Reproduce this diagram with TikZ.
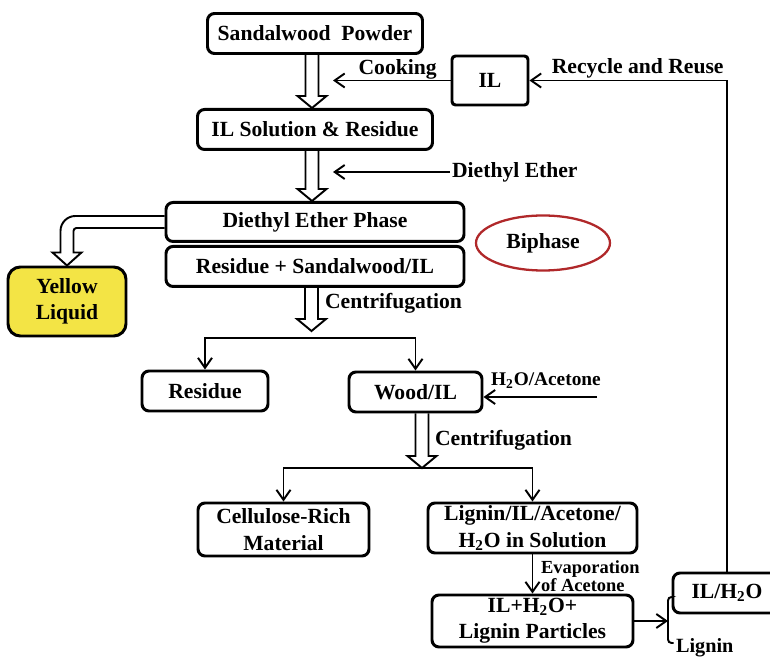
\documentclass[tikz,border=0pt]{standalone}
\usepackage{fontspec}
\setmainfont{Liberation Serif}
\usetikzlibrary{arrows.meta,positioning,calc,shapes.geometric}
\definecolor{lemon}{HTML}{F3E445}
\definecolor{brick}{HTML}{B0282A}
% hollow block arrow going straight down: #1 = x, #2 = from, #3 = to
\newcommand{\fatdown}[3]{%
  \draw[fat] let \p1=(#2), \p2=(#3) in
    (#1-0.13cm,\y1) -- (#1-0.13cm,\y2+0.24cm) -- (#1-0.29cm,\y2+0.24cm) -- (#1,\y2)
    -- (#1+0.29cm,\y2+0.24cm) -- (#1+0.13cm,\y2+0.24cm) -- (#1+0.13cm,\y1);}

\begin{document}
\begin{tikzpicture}[>={Straight Barb[length=2mm,width=2.8mm]},node distance=5mm]
  \tikzstyle{box}=[draw,line width=1.7pt,rounded corners=4pt,minimum height=8mm,align=center,inner xsep=2pt,inner ysep=1pt,font=\fontsize{12.3}{15}\selectfont\bfseries]
  \tikzstyle{lbl}=[inner sep=1pt,align=center,font=\fontsize{12.3}{15}\selectfont\bfseries]
  \tikzstyle{small}=[inner sep=1pt,align=center,font=\fontsize{11}{14}\selectfont\bfseries]
  \tikzstyle{conn}=[draw,line width=1.1pt]
  \tikzstyle{fat}=[draw,line width=1.1pt,line join=miter]
  \useasboundingbox (0,0) rectangle (15.4,-13.14);
  % main column
  \node[box,minimum width=4.30cm] (sp) at (6.30,-0.67) {Sandalwood~ Powder};
  \node[box,minimum width=4.70cm,below=1.06cm of sp] (sol) {IL Solution \& Residue};
  \node[box,minimum width=5.96cm,minimum height=7.8mm,below=1.0cm of sol] (dep) {Diethyl Ether Phase};
  \node[box,minimum width=5.96cm,below=0.04cm of dep] (rsw) {Residue + Sandalwood/IL};
  \node[box,minimum width=1.52cm,minimum height=9.8mm,rounded corners=2pt] (il) at (9.80,-1.61) {IL};
  \node[draw=brick,line width=1.3pt,ellipse,minimum width=2.68cm,minimum height=1.10cm,font=\fontsize{12.3}{15}\selectfont\bfseries] (bi) at (10.86,-4.86) {Biphase};
  \node[box,fill=lemon,minimum width=2.36cm,minimum height=1.38cm,rounded corners=7pt] (yl) at (1.34,-6.03) {Yellow\\Liquid};
  \node[box,minimum width=2.52cm] (resd) at (4.10,-7.82) {Residue};
  \node[box,minimum width=2.66cm] (wil) at (8.31,-7.84) {Wood/IL};
  \node[box,minimum width=3.42cm,minimum height=1.06cm] (cel) at (5.67,-10.59) {Cellulose-Rich\\Material};
  \node[box,minimum width=4.18cm,minimum height=1.00cm] (lig) at (10.65,-10.56) {Lignin/IL/Acetone/\\H\textsubscript{2}O in Solution};
  \node[box,minimum width=4.02cm,minimum height=1.04cm] (ilp) at (10.65,-12.42) {IL+H\textsubscript{2}O+\\Lignin Particles};
  \node[box,minimum width=2.16cm] (ilw) at (14.54,-11.86) {IL/H\textsubscript{2}O};
  \node[lbl,anchor=west,font=\fontsize{11.5}{14}\selectfont\bfseries] (lgn) at (13.48,-12.96) {Lignin};
  % side labels
  \node[lbl,anchor=west] (dee) at (9.00,-3.44) {Diethyl Ether};
  \node[lbl,anchor=west] (cf1) at (6.46,-6.06) {Centrifugation};
  \node[lbl,anchor=west] (cf2) at (8.66,-8.80) {Centrifugation};
  \node[small,anchor=west] (hac) at (9.78,-7.62) {H\textsubscript{2}O/Acetone};
  \node[small,anchor=west,align=left,font=\fontsize{10.5}{10.4}\selectfont\bfseries] (ev) at (10.78,-11.52) {Evaporation\\of Acetone};
  \coordinate (ck) at (6.66,-1.61);
  \coordinate (t1) at (6.23,-6.62);
  \coordinate (s1) at (6.23,-6.76);
  \coordinate (s2) at (8.44,-9.36);
  \coordinate (wa) at (11.94,-7.94);
  \coordinate (br) at (13.36,-12.42);
  \coordinate (bt) at (13.36,-11.94);
  \coordinate (bb) at (13.36,-12.86);
  \coordinate (bl) at (13.47,-12.86);
  % block arrows
  \fatdown{6.24cm}{sp.south}{sol.north}
  \fatdown{6.24cm}{sol.south}{dep.north}
  \fatdown{6.23cm}{rsw.south}{t1}
  \fatdown{8.44cm}{wil.south}{s2}
  \draw[fat] let \p1=(dep.west), \p2=(yl.north) in
    (\x1,\y1+0.12cm) -- (\x2+0.17cm,\y1+0.12cm) arc[start angle=90,end angle=180,radius=0.3cm]
    -- (\x2-0.13cm,\y2+0.26cm) -- (\x2-0.29cm,\y2+0.26cm) -- (\x2,\y2) -- (\x2+0.29cm,\y2+0.26cm)
    -- (\x2+0.13cm,\y2+0.26cm) -- (\x2+0.13cm,\y1-0.18cm) arc[start angle=180,end angle=90,radius=0.06cm]
    -- (\x1,\y1-0.12cm);
  % thin arrows
  \draw[conn,->] (il.west) -- (ck) node[lbl,pos=0.45,above,inner sep=0pt] (ckl) {Cooking};
  \draw[conn,->] (dee.west) -- (dee.west -| ck);
  \draw[conn,->] (s1) -| (resd.north);
  \draw[conn,->] (s1) -| (wil.north);
  \draw[conn,->] (s2) -| (cel.north);
  \draw[conn,->] (s2) -| (lig.north);
  \draw[conn,->] (wa) -- (wa -| wil.east);
  \draw[conn,->] (lig) -- (ilp);
  \draw[conn,->] (ilp.east) -- (br);
  \draw[conn,rounded corners=2pt] (bt -| ilw.west) -- (bt) -- (bb) -- (bl);
  \draw[conn,->] (ilw.north) |- (il.east) node[lbl,pos=0.726,above] (rr) {Recycle and Reuse};
\end{tikzpicture}
\end{document}
